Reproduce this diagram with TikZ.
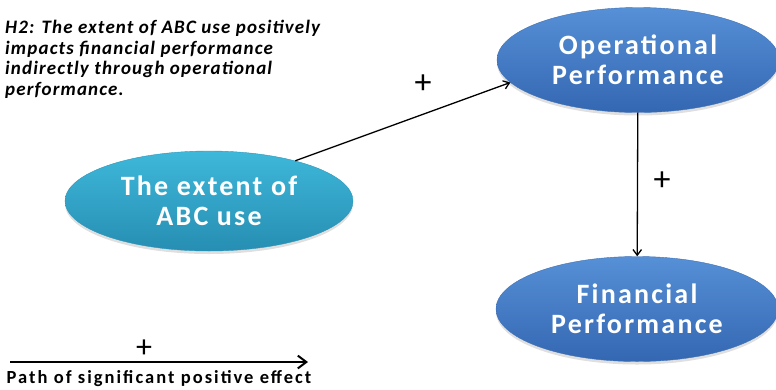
\documentclass[tikz,border=0pt]{standalone}
\usepackage{fontspec}
\setmainfont{Carlito}
\usetikzlibrary{positioning,arrows.meta,shapes.geometric,shadows}
\definecolor{perfTop}{RGB}{86,144,214}
\definecolor{perfBot}{RGB}{52,103,178}
\definecolor{perfLine}{RGB}{62,112,182}
\definecolor{abcTop}{RGB}{62,184,218}
\definecolor{abcBot}{RGB}{38,142,178}
\definecolor{abcLine}{RGB}{44,150,186}

\begin{document}
\begin{tikzpicture}[x=1pt,y=-1pt,>={Straight Barb[length=2mm,width=3mm]},
  construct/.style={ellipse,inner sep=0pt,align=center,text=white,
    font=\bfseries\fontsize{28}{29.5}\selectfont\addfontfeatures{LetterSpace=8},
    drop shadow={opacity=0.25,shadow xshift=0pt,shadow yshift=-3pt}},
  perf/.style={construct,draw=perfLine,top color=perfTop,bottom color=perfBot,
    minimum width=282pt,minimum height=105pt},
  plus/.style={font=\fontsize{34}{34}\selectfont,inner sep=0pt}]
\useasboundingbox (0,0) rectangle (776,389);
\node[construct,draw=abcLine,top color=abcTop,bottom color=abcBot,
  minimum width=288pt,minimum height=100pt] (abc) at (209,201) {The extent of\\ABC use};
\node[perf] (op) at (638,60) {Operational\\Performance};
\node[perf] (fin) at (637,309) {Financial\\Performance};
\node[anchor=north west,inner sep=0pt,align=left,
  font=\bfseries\itshape\fontsize{19}{20.7}\selectfont\addfontfeatures{LetterSpace=6}] (hyp) at (5,20)
  {H2: The extent of ABC use positively\\impacts financial performance\\indirectly through operational\\performance.};
\draw[->,line width=1.3pt] (abc.25) -- (op.190);
\draw[->,line width=1.3pt] (op) -- (fin);
\node[plus] (p1) at (423,84) {+};
\node[plus] (p2) at (662,181) {+};
% legend
\coordinate (legA) at (10,362);
\coordinate (legB) at (308,362);
\draw[-{Straight Barb[length=3mm,width=4.5mm]},line width=2pt] (legA) -- (legB);
\node[plus,font=\fontsize{32}{32}\selectfont] (p3) at (144,349) {+};
\node[anchor=base,inner sep=0pt,
  font=\bfseries\fontsize{18.5}{18.5}\selectfont\addfontfeatures{LetterSpace=11}] (leg) at (159,383)
  {Path of significant positive effect};
\end{tikzpicture}
\end{document}
